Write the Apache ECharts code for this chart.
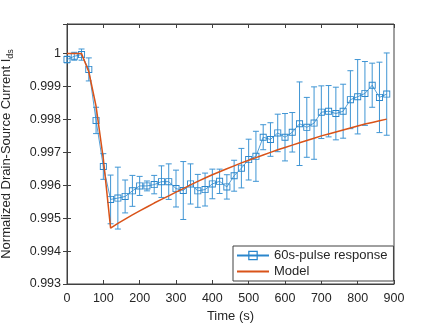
<!DOCTYPE html>
<html>
<head>
<meta charset="utf-8">
<script src="https://cdn.jsdelivr.net/npm/echarts@6/dist/echarts.min.js"></script>
<style>
  html, body { margin: 0; padding: 0; background: #fff; }
  #chart { width: 436px; height: 327px; }
</style>
</head>
<body>
<div id="chart"></div>
<script>
// time stamps (s)
const timeS = [0, 20, 40, 60, 80, 100, 120, 140, 160, 180, 200, 220, 240, 260, 280, 300,
  320, 340, 360, 380, 400, 420, 440, 460, 480, 500, 520, 540, 560, 580, 600, 620,
  640, 660, 680, 700, 720, 740, 760, 780, 800, 820, 840, 860, 880];

// measured 60s-pulse response (mean)
const response = [0.99982, 0.99992, 0.99997, 0.99952, 0.99797, 0.99657, 0.99557, 0.99561,
  0.99566, 0.99583, 0.99598, 0.99598, 0.99602, 0.99611, 0.99611, 0.99590,
  0.99584, 0.99604, 0.99583, 0.99587, 0.99604, 0.99612, 0.99595, 0.99629,
  0.99652, 0.99678, 0.99688, 0.99746, 0.99739, 0.99759, 0.99746, 0.99761,
  0.99787, 0.99776, 0.99789, 0.99822, 0.99825, 0.99818, 0.99825, 0.99860,
  0.99869, 0.99879, 0.99904, 0.99867, 0.99877];

// error bar half-lengths
const errHalf = [0.00010, 0.00012, 0.00017, 0.00035, 0.00040, 0.00039, 0.00074, 0.00094,
  0.00050, 0.00047, 0.00029, 0.00015, 0.00028, 0.00048, 0.00054, 0.00056,
  0.00088, 0.00061, 0.00050, 0.00050, 0.00045, 0.00037, 0.00037, 0.00047,
  0.00060, 0.00062, 0.00076, 0.00038, 0.00051, 0.00057, 0.00072, 0.00060,
  0.00127, 0.00091, 0.00110, 0.00080, 0.00078, 0.00080, 0.00082, 0.00088,
  0.00113, 0.00097, 0.00067, 0.00107, 0.00125];

// model curve
const model = [1.0, 1.0, 1.0, 0.99945, 0.99840, 0.99680, 0.99470, 0.99484,
  0.99497, 0.99510, 0.99522, 0.99534, 0.99546, 0.99557, 0.99568, 0.99579,
  0.99590, 0.99601, 0.99612, 0.99622, 0.99632, 0.99641, 0.99650, 0.99659,
  0.99668, 0.99676, 0.99684, 0.99692, 0.99700, 0.99708, 0.99715, 0.99722,
  0.99729, 0.99736, 0.99743, 0.99750, 0.99756, 0.99762, 0.99768, 0.99774,
  0.99780, 0.99786, 0.99791, 0.99796, 0.99801];

const xTicks = { min: 0, max: 900, interval: 100 };
const yTicks = { min: 0.993, max: 1.0009, interval: 0.001 };

const BLUE = '#2a86cc';
const ERR_BLUE = '#3f95d4';
const ORANGE = '#D95319';
const AXIS = '#404040';
const TEXT = '#262626';
const FONT = 'Liberation Sans, Arial, sans-serif';
// hollow square marker (outer ring minus inner hole)
const HOLLOW_SQUARE = 'path://M0,0H10V10H0Z M1.3,1.3V8.7H8.7V1.3Z';

const chart = echarts.init(document.getElementById('chart'), null, { renderer: 'canvas' });

const errData = timeS.map((t, i) => [t, response[i] - errHalf[i], response[i] + errHalf[i]]);

function renderErr(params, api) {
  const lo = api.coord([api.value(0), api.value(1)]);
  const hi = api.coord([api.value(0), api.value(2)]);
  const cap = 3;
  const style = { stroke: ERR_BLUE, lineWidth: 1 };
  return {
    type: 'group',
    children: [
      { type: 'line', shape: { x1: lo[0], y1: lo[1], x2: hi[0], y2: hi[1] }, style },
      { type: 'line', shape: { x1: lo[0] - cap, y1: lo[1], x2: lo[0] + cap, y2: lo[1] }, style },
      { type: 'line', shape: { x1: hi[0] - cap, y1: hi[1], x2: hi[0] + cap, y2: hi[1] }, style },
    ],
  };
}

const tickFmt = v => String(+v.toFixed(3));

chart.setOption({
  animation: false,
  textStyle: { fontFamily: FONT },
  grid: {
    left: 67, right: 42, top: 24, bottom: 43,
    outerBoundsMode: 'none',
    containLabel: false,
    show: true, borderColor: AXIS, borderWidth: 1, backgroundColor: '#fff',
  },
  legend: {
    left: 233, top: 246,
    orient: 'vertical',
    backgroundColor: '#fff',
    borderColor: AXIS, borderWidth: 1, borderRadius: 0,
    padding: [3, 6, 3, 3],
    itemGap: 3,
    itemWidth: 32, itemHeight: 12,
    textStyle: { color: TEXT, fontSize: 13, fontFamily: FONT },
    data: [
      { name: '60s-pulse response' },
      { name: 'Model', itemStyle: { opacity: 0 } },
    ],
  },
  xAxis: [{
    type: 'value',
    min: xTicks.min, max: xTicks.max, interval: xTicks.interval,
    name: 'Time (s)', nameLocation: 'middle', nameGap: 23,
    nameTextStyle: { color: TEXT, fontSize: 13, fontFamily: FONT },
    axisLine: { show: true, lineStyle: { color: AXIS } },
    axisTick: { inside: true, length: 4, lineStyle: { color: AXIS } },
    axisLabel: { color: TEXT, fontSize: 12.5, margin: 8 },
    splitLine: { show: false },
  }, {
    type: 'value', position: 'top',
    min: xTicks.min, max: xTicks.max, interval: xTicks.interval,
    axisLine: { show: true, lineStyle: { color: AXIS } },
    axisTick: { inside: true, length: 4, lineStyle: { color: AXIS } },
    axisLabel: { show: false },
    splitLine: { show: false },
  }],
  yAxis: [{
    type: 'value',
    min: yTicks.min, max: yTicks.max, interval: yTicks.interval,
    name: 'Normalized Drain-Source Current I{sub|ds}',
    nameLocation: 'middle', nameGap: 52, nameRotate: 90,
    nameTextStyle: {
      color: TEXT, fontSize: 13, fontFamily: FONT, lineHeight: 18,
      rich: { sub: { fontSize: 9, color: TEXT, fontFamily: FONT, verticalAlign: 'bottom', lineHeight: 18 } },
    },
    axisLine: { show: true, lineStyle: { color: AXIS } },
    axisTick: { inside: true, length: 4, lineStyle: { color: AXIS } },
    axisLabel: { color: TEXT, fontSize: 12.5, margin: 6, showMaxLabel: false, formatter: tickFmt },
    splitLine: { show: false },
  }, {
    type: 'value', position: 'right',
    min: yTicks.min, max: yTicks.max, interval: yTicks.interval,
    axisLine: { show: true, lineStyle: { color: AXIS } },
    axisTick: { inside: true, length: 4, lineStyle: { color: AXIS } },
    axisLabel: { show: false },
    splitLine: { show: false },
  }],
  series: [
    {
      name: 'errorbars',
      type: 'custom',
      renderItem: renderErr,
      data: errData,
      encode: { x: 0, y: [1, 2] },
      z: 2,
    },
    {
      name: '60s-pulse response',
      type: 'line',
      data: timeS.map((t, i) => [t, response[i]]),
      symbol: HOLLOW_SQUARE, symbolSize: 7,
      lineStyle: { color: BLUE, width: 0.8 },
      itemStyle: { color: BLUE, borderWidth: 0 },
      z: 3,
    },
    {
      name: 'Model',
      type: 'line',
      data: timeS.map((t, i) => [t, model[i]]),
      showSymbol: false, symbol: 'none',
      lineStyle: { color: ORANGE, width: 1.5 },
      itemStyle: { color: ORANGE },
      z: 4,
    },
  ],
});
</script>
</body>
</html>
